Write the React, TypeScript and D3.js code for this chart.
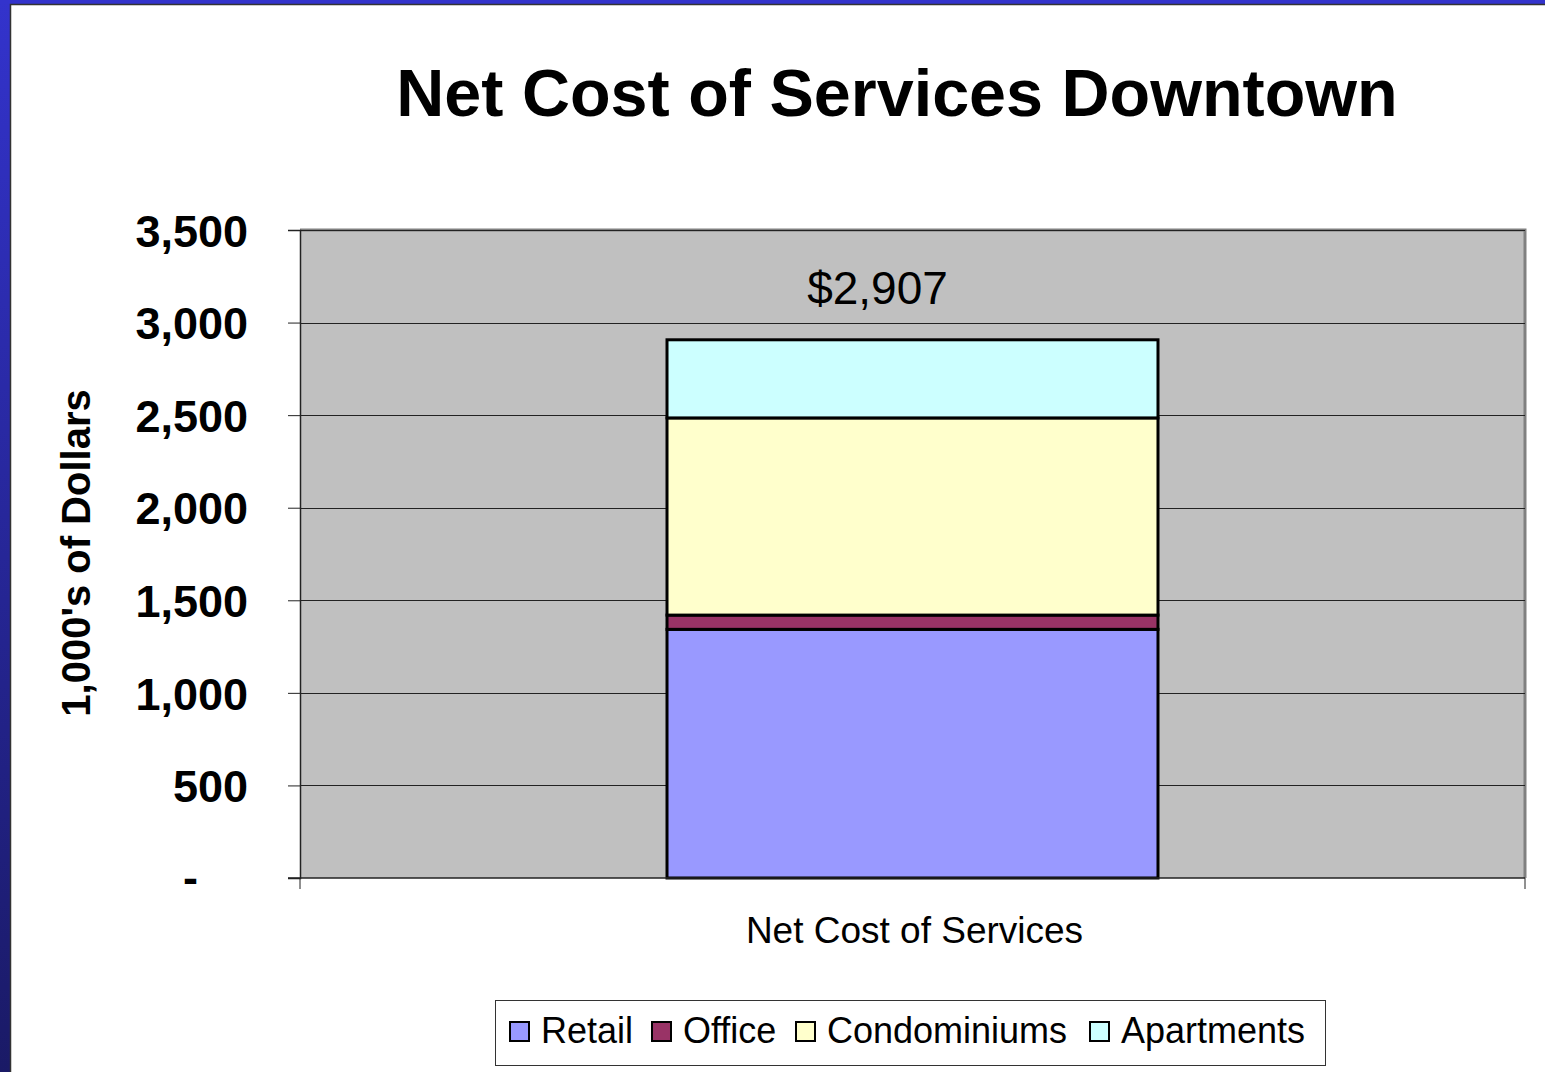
import * as d3 from "d3";
import { useEffect, useRef } from "react";

const categories = ["Net Cost of Services"];
const seriesNames = ["Retail", "Office", "Condominiums", "Apartments"];
const seriesValues = [1343, 77, 1065, 422];
const seriesColors = ["#9999FF", "#993366", "#FFFFCC", "#CCFFFF"];
const yTicks = [0, 500, 1000, 1500, 2000, 2500, 3000, 3500];
const totalLabel = "$2,907";

const W = 1545;
const H = 1072;

export default function App() {
  const svgRef = useRef<SVGSVGElement>(null);

  useEffect(() => {
    if (!svgRef.current) return;
    const root = d3.select(svgRef.current);
    root.selectAll("*").remove();

    const font = "'Liberation Sans', Arial, sans-serif";
    const plot = { left: 300, right: 1525, top: 230, bottom: 878 };

    // frame: blue gradient border on left and top
    const defs = root.append("defs");
    const grad = defs
      .append("linearGradient")
      .attr("id", "frameGrad")
      .attr("x1", 0)
      .attr("y1", 0)
      .attr("x2", 0)
      .attr("y2", 1);
    grad.append("stop").attr("offset", "0%").attr("stop-color", "#3333CC");
    grad.append("stop").attr("offset", "100%").attr("stop-color", "#1A1A66");

    root.append("rect").attr("width", W).attr("height", H).attr("fill", "white");
    root.append("rect").attr("x", 0).attr("y", 0).attr("width", 10).attr("height", H).attr("fill", "url(#frameGrad)");
    root.append("rect").attr("x", 0).attr("y", 0).attr("width", W).attr("height", 4).attr("fill", "#3333CC");
    root
      .append("path")
      .attr("d", `M10.5,${H} V4.5 H${W}`)
      .attr("fill", "none")
      .attr("stroke", "#333")
      .attr("stroke-width", 1.5);

    // title
    root
      .append("text")
      .attr("x", 897)
      .attr("y", 116)
      .attr("text-anchor", "middle")
      .attr("font-family", font)
      .attr("font-weight", "bold")
      .attr("font-size", 66.5)
      .text("Net Cost of Services Downtown");

    const x = d3
      .scaleBand()
      .domain(categories)
      .range([plot.left, plot.right])
      .paddingInner(0)
      .paddingOuter(0.7475);

    const y = d3.scaleLinear().domain([0, 3500]).range([plot.bottom, plot.top]);

    // plot background
    root
      .append("rect")
      .attr("x", plot.left)
      .attr("y", plot.top)
      .attr("width", plot.right - plot.left)
      .attr("height", plot.bottom - plot.top)
      .attr("fill", "#C0C0C0");
    root
      .append("path")
      .attr("d", `M${plot.left},${plot.top} H${plot.right} V${plot.bottom}`)
      .attr("fill", "none")
      .attr("stroke", "#808080")
      .attr("stroke-width", 3);

    // gridlines
    root
      .append("g")
      .selectAll("line")
      .data(yTicks.filter((d) => d > 0))
      .enter()
      .append("line")
      .attr("x1", plot.left)
      .attr("x2", plot.right)
      .attr("y1", (d) => Math.round(y(d)) + 0.5)
      .attr("y2", (d) => Math.round(y(d)) + 0.5)
      .attr("stroke", "#222")
      .attr("stroke-width", 1);

    // stacked bar
    const row: Record<string, number | string> = { cat: categories[0] };
    seriesNames.forEach((n, i) => (row[n] = seriesValues[i]));
    const stacked = d3.stack<any>().keys(seriesNames)([row]);

    const bars = root.append("g");
    stacked.forEach((layer, i) => {
      bars
        .selectAll(null)
        .data(layer)
        .enter()
        .append("rect")
        .attr("x", (d) => x(d.data.cat as string)!)
        .attr("width", x.bandwidth())
        .attr("y", (d) => y(d[1]))
        .attr("height", (d) => y(d[0]) - y(d[1]))
        .attr("fill", seriesColors[i])
        .attr("stroke", "black")
        .attr("stroke-width", 3);
    });

    // total label
    root
      .append("text")
      .attr("x", x(categories[0])! + x.bandwidth() / 2 - 35)
      .attr("y", y(d3.sum(seriesValues)) - 36)
      .attr("text-anchor", "middle")
      .attr("font-family", font)
      .attr("font-size", 46)
      .text(totalLabel);

    // y axis
    const yAxis = root
      .append("g")
      .attr("transform", `translate(${plot.left},0)`)
      .call(
        d3
          .axisLeft(y)
          .tickValues(yTicks)
          .tickSize(12)
          .tickPadding(40)
          .tickFormat((d) => (+d === 0 ? "-" : d3.format(",")(+d)))
      );
    yAxis.select(".domain").attr("stroke", "#222").attr("stroke-width", 1.5);
    yAxis.selectAll(".tick line").attr("stroke", "#222");
    yAxis
      .selectAll(".tick text")
      .attr("font-family", font)
      .attr("font-weight", "bold")
      .attr("font-size", 45)
      .attr("fill", "black")
      .attr("dy", "0.36em");
    yAxis
      .selectAll(".tick text")
      .filter((d) => +d === 0)
      .attr("dx", -50)
      .attr("dy", "0.33em");

    // x axis
    const xAxis = root
      .append("g")
      .attr("transform", `translate(0,${plot.bottom})`);
    xAxis
      .append("line")
      .attr("x1", plot.left - 12)
      .attr("x2", plot.right)
      .attr("stroke", "#222")
      .attr("stroke-width", 1.5);
    xAxis
      .selectAll(".xt")
      .data([plot.left, plot.right])
      .enter()
      .append("line")
      .attr("x1", (d) => d)
      .attr("x2", (d) => d)
      .attr("y1", 0)
      .attr("y2", 11)
      .attr("stroke", "#222");
    xAxis
      .selectAll(".xl")
      .data(categories)
      .enter()
      .append("text")
      .attr("x", (d) => x(d)! + x.bandwidth() / 2 + 2)
      .attr("y", 65)
      .attr("text-anchor", "middle")
      .attr("font-family", font)
      .attr("font-size", 37)
      .text((d) => d);

    // y label
    root
      .append("text")
      .attr("transform", `translate(90,553) rotate(-90)`)
      .attr("text-anchor", "middle")
      .attr("font-family", font)
      .attr("font-weight", "bold")
      .attr("font-size", 40)
      .text("1,000's of Dollars");

    // legend
    const lg = root.append("g");
    lg.append("rect")
      .attr("x", 495.5)
      .attr("y", 1000.5)
      .attr("width", 830)
      .attr("height", 65)
      .attr("fill", "white")
      .attr("stroke", "#333")
      .attr("stroke-width", 1);
    const legendX = [510, 652, 796, 1090];
    seriesNames.forEach((n, i) => {
      lg.append("rect")
        .attr("x", legendX[i])
        .attr("y", 1022)
        .attr("width", 19)
        .attr("height", 19)
        .attr("fill", seriesColors[i])
        .attr("stroke", "black")
        .attr("stroke-width", 2);
      lg.append("text")
        .attr("x", legendX[i] + 31)
        .attr("y", 1043)
        .attr("font-family", font)
        .attr("font-size", 36)
        .text(n);
    });
  }, []);

  return (
    <svg
      ref={svgRef}
      width={W}
      height={H}
      style={{ position: "absolute", left: 0, top: 0, display: "block" }}
    />
  );
}
